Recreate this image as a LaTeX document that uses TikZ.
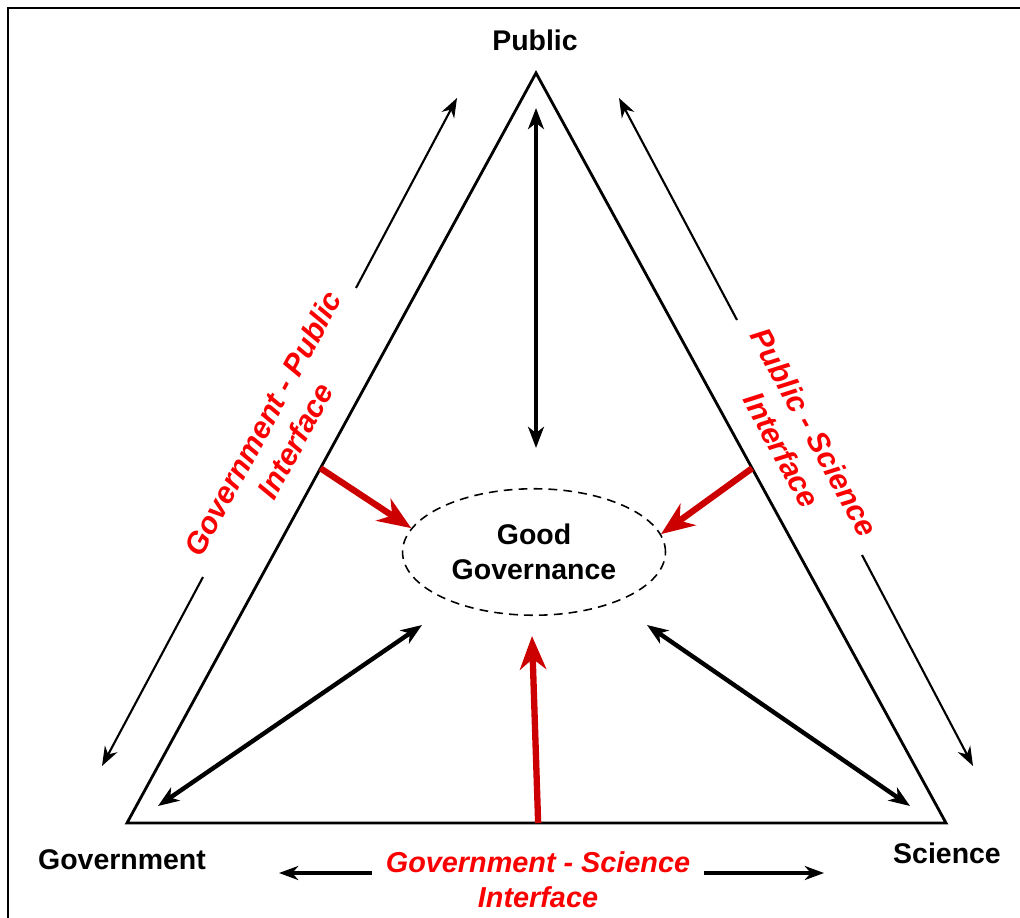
\documentclass[tikz,border=0pt]{standalone}
\usepackage{fontspec}
\setmainfont{Liberation Sans}
\usetikzlibrary{arrows.meta,shapes.geometric,calc}
\definecolor{ifred}{RGB}{250,0,0}
\definecolor{arrred}{RGB}{204,0,0}

\begin{document}
\begin{tikzpicture}[x=0.02cm,y=-0.02cm,>={Stealth[length=11pt,width=8pt,inset=3.5pt]},
        every node/.style={font=\fontsize{16.2}{20}\selectfont\bfseries},
        iface/.style={text=ifred,font=\fontsize{16.4}{20}\selectfont\bfseries\itshape,align=center},
        edgeline/.style={line width=1.6pt,line join=miter},
        outer/.style={->,line width=1.2pt},
        flow/.style={<->,line width=2.5pt,>={Stealth[length=12pt,width=9pt,inset=3.5pt]}},
        push/.style={->,draw=arrred,line width=3.6pt,>={Stealth[length=19pt,width=15pt,inset=6pt]}}]

  \clip (0,0) rectangle (1020,918);
  \draw[line width=1.2pt] (8,8) rectangle (1040,940);

  \coordinate (pub) at (536,73);
  \coordinate (gov) at (127,823);
  \coordinate (sci) at (946,823);
  \draw[edgeline] (gov) -- (pub) -- (sci) -- cycle;

  \node (publabel) at (535,40) {Public};
  \node (govlabel) at (122,860) {Government};
  \node (scilabel) at (947,853) {Science};

  \node[ellipse,draw,dash pattern=on 5pt off 3.5pt,line width=0.9pt,align=center,
        inner sep=0pt,minimum width=5.26cm,minimum height=2.53cm] (good) at (534,552) {Good\\Governance};

  \node[iface,font=\fontsize{17.2}{21}\selectfont\bfseries\itshape,rotate=61.4] (gpiface) at (279,432) {Government - Public\\Interface};
  \node[iface,font=\fontsize{17.2}{21}\selectfont\bfseries\itshape,rotate=-61.3] (psiface) at (798,441) {Public - Science\\Interface};
  \node[iface] (gsiface) at (538,880) {Government - Science\\Interface};

  \coordinate (gpa) at (356,288); \coordinate (gpb) at (457,98);
  \coordinate (gpc) at (203,577); \coordinate (gpd) at (102,766);
  \coordinate (psa) at (737,320); \coordinate (psb) at (619,98);
  \coordinate (psc) at (862,555); \coordinate (psd) at (973,766);
  \coordinate (gsa) at (372,873); \coordinate (gsb) at (279,873);
  \coordinate (gsc) at (704,873); \coordinate (gsd) at (824,873);

  \path (gpa) edge[outer] (gpb)
        (gpc) edge[outer] (gpd)
        (psa) edge[outer] (psb)
        (psc) edge[outer] (psd)
        (gsa) edge[outer,line width=1.8pt] (gsb)
        (gsc) edge[outer,line width=1.8pt] (gsd);

  \coordinate (vtop) at (536,108); \coordinate (vbot) at (536,448);
  \coordinate (govin) at (158,806); \coordinate (govout) at (422,625);
  \coordinate (sciout) at (647,625); \coordinate (sciin) at (910,806);
  \coordinate (gsin) at (532,636);

  \path (vtop) edge[flow] (vbot)
        (govin) edge[flow] (govout)
        (sciout) edge[flow] (sciin);

  \path ($(gov)!0.473!(pub)$) edge[push] (good.169)
        ($(sci)!0.473!(pub)$) edge[push] (good.8)
        ($(gov)!0.502!(sci)$) edge[push] (gsin);

\end{tikzpicture}
\end{document}
